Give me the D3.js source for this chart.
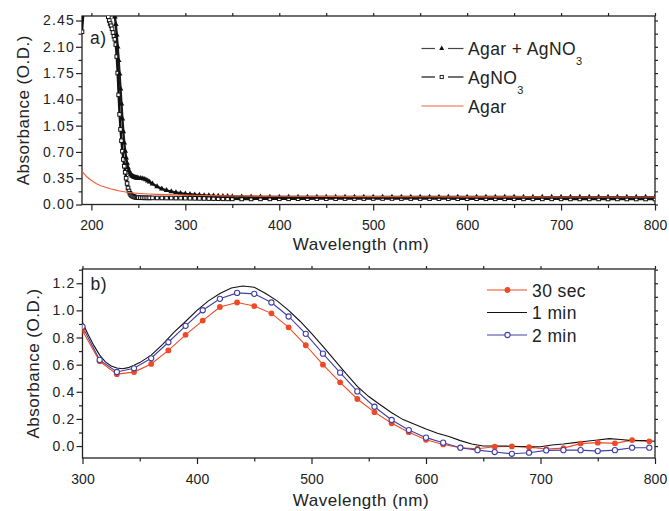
<!DOCTYPE html>
<html>
<head>
<meta charset="utf-8">
<title>Absorbance spectra</title>
<script src="https://d3js.org/d3.v7.min.js"></script>
<style>
  body { margin: 0; background: #fff; }
  svg { font-family: "Liberation Sans", Arial, sans-serif; }
  .axis path { display: none; }
  .axis line { stroke: #222; stroke-width: 1.2; }
  .axis text { font-size: 14px; fill: #222; }
  .frame { fill: none; stroke: #222; stroke-width: 1.3; }
  .title { font-size: 17px; fill: #222; letter-spacing: 0.5px; }
  .legend { font-size: 17.5px; fill: #222; letter-spacing: 0.4px; }
</style>
</head>
<body>
<script>

// panel a) wavelengths shared by the two black series
var topWl = [190, 195, 200, 205, 210, 215,
  216, 217, 218, 219, 220, 221, 222, 223, 224, 225, 226, 227, 228, 229, 230,
  231, 232, 233, 234, 235, 236, 237, 238, 239, 240, 241, 242, 243, 244, 245,
  246, 247, 248, 249, 250,
  252, 254, 256, 258, 260, 262,
  265, 270, 275, 280, 285, 290, 295, 300, 305, 310, 315, 320, 325, 330, 335,
  340, 345, 350,
  360, 370, 380, 390, 400, 410, 420, 430, 440, 450, 460, 470, 480, 490, 500,
  510, 520, 530, 540, 550, 560, 570, 580, 590, 600, 610, 620, 630, 640, 650,
  660, 670, 680, 690, 700, 710, 720, 730, 740, 750, 760, 770, 780, 790, 800];

// Agar + AgNO3 (filled triangles)
var agarAgno3Abs = [3.5, 3.5, 3.5, 3.5, 3.5, 3.4,
  3.3, 3.2, 3.1, 3.0, 2.9, 2.8, 2.72, 2.65, 2.58, 2.50, 2.40, 2.26, 2.10, 1.92, 1.74,
  1.54, 1.34, 1.14, 0.97, 0.82, 0.71, 0.62, 0.55, 0.49, 0.45, 0.42, 0.40, 0.385, 0.375, 0.368,
  0.362, 0.358, 0.355, 0.352, 0.35,
  0.35, 0.347, 0.34, 0.33, 0.315, 0.30,
  0.275, 0.238, 0.208, 0.188, 0.172, 0.16, 0.15, 0.142, 0.136, 0.13, 0.125, 0.121, 0.118, 0.115, 0.112,
  0.11, 0.108, 0.106,
  0.104, 0.103, 0.102, 0.101, 0.10, 0.10, 0.10, 0.10, 0.10, 0.10, 0.10, 0.10, 0.10, 0.10, 0.10,
  0.10, 0.10, 0.10, 0.10, 0.10, 0.099, 0.099, 0.099, 0.099, 0.099, 0.099, 0.099, 0.099, 0.099, 0.099,
  0.098, 0.098, 0.098, 0.098, 0.098, 0.098, 0.098, 0.098, 0.098, 0.098, 0.098, 0.098, 0.098, 0.098, 0.098];

// AgNO3 (open squares)
var agno3Abs = [2.30, 3.2, 3.4, 3.4, 3.3, 2.9,
  2.70, 2.60, 2.50, 2.45, 2.41, 2.38, 2.34, 2.29, 2.24, 2.20, 2.13, 1.97, 1.75, 1.46, 1.20,
  1.00, 0.85, 0.71, 0.60, 0.51, 0.43, 0.35, 0.28, 0.22, 0.18, 0.15, 0.13, 0.118, 0.11, 0.105,
  0.10, 0.097, 0.095, 0.093, 0.092,
  0.09, 0.09, 0.089, 0.089, 0.088, 0.088,
  0.088, 0.087, 0.087, 0.086, 0.086, 0.085, 0.085, 0.084, 0.083, 0.082, 0.081, 0.08, 0.079, 0.078, 0.077,
  0.076, 0.075, 0.075,
  0.074, 0.074, 0.075, 0.075, 0.076, 0.076, 0.077, 0.077, 0.078, 0.078, 0.078, 0.079, 0.079, 0.079, 0.08,
  0.08, 0.08, 0.079, 0.079, 0.079, 0.078, 0.078, 0.078, 0.077, 0.077, 0.077, 0.076, 0.076, 0.076, 0.076,
  0.075, 0.075, 0.075, 0.075, 0.075, 0.074, 0.074, 0.074, 0.074, 0.074, 0.074, 0.073, 0.073, 0.073, 0.073];

// Agar (red line)
var agarWl = [190, 192, 195, 198, 200, 205, 210, 215, 220, 225, 230, 235, 240, 245, 250,
  260, 270, 280, 290, 300, 320, 340, 360, 380, 400, 450, 500, 550, 600, 650, 700, 750, 800];
var agarAbs = [0.44, 0.41, 0.37, 0.34, 0.32, 0.28, 0.25, 0.23, 0.21, 0.195, 0.18, 0.17, 0.16, 0.153, 0.147,
  0.14, 0.135, 0.131, 0.128, 0.125, 0.12, 0.116, 0.113, 0.111, 0.11, 0.107, 0.105, 0.103, 0.102, 0.101, 0.10, 0.10, 0.10];

// panel b) marker wavelengths (every 15 nm)
var markWl = [300, 315, 330, 345, 360, 375, 390, 405, 420, 435, 450, 465, 480, 495, 510, 525, 540,
  555, 570, 585, 600, 615, 630, 645, 660, 675, 690, 705, 720, 735, 750, 765, 780, 795];
var sec30Abs = [0.85, 0.625, 0.53, 0.545, 0.605, 0.705, 0.82, 0.925, 1.025, 1.058, 1.032, 0.978, 0.875,
  0.743, 0.60, 0.47, 0.347, 0.25, 0.168, 0.102, 0.046, 0.012, -0.012, -0.02, -0.005, -0.003, -0.008,
  -0.022, -0.015, 0.018, 0.025, 0.02, 0.044, 0.035];
var min2Abs = [0.88, 0.635, 0.546, 0.573, 0.647, 0.765, 0.886, 1.001, 1.085, 1.129, 1.122, 1.058, 0.955,
  0.827, 0.681, 0.541, 0.403, 0.29, 0.192, 0.118, 0.062, 0.025, -0.012, -0.03, -0.044, -0.057, -0.049,
  -0.032, -0.03, -0.03, -0.037, -0.03, -0.012, -0.012];

// 1 min (plain black line)
var min1Wl = [300, 305, 310, 315, 320, 325, 330, 335, 340, 345, 350, 360, 370, 380, 390, 400, 410, 420,
  430, 440, 450, 460, 470, 480, 490, 500, 510, 520, 530, 540, 550, 560, 570, 580, 590, 600, 610, 620,
  630, 640, 650, 660, 670, 680, 690, 700, 710, 720, 730, 740, 750, 760, 770, 780, 790, 800];
var min1Abs = [0.91, 0.82, 0.74, 0.67, 0.62, 0.59, 0.575, 0.57, 0.578, 0.595, 0.615, 0.67, 0.75, 0.84,
  0.918, 1.0, 1.07, 1.125, 1.165, 1.18, 1.17, 1.125, 1.07, 1.0, 0.92, 0.83, 0.735, 0.635, 0.535, 0.44,
  0.365, 0.305, 0.245, 0.195, 0.16, 0.125, 0.095, 0.07, 0.04, 0.015, 0.0, 0.0, 0.0, -0.003, -0.005,
  -0.005, 0.008, 0.015, 0.025, 0.035, 0.045, 0.055, 0.048, 0.04, 0.04, 0.035];

// ticks
var topXTicks = [200, 300, 400, 500, 600, 700, 800];
var topXMinor = [250, 350, 450, 550, 650, 750];
var topYTicks = [0, 0.35, 0.70, 1.05, 1.40, 1.75, 2.10, 2.45];
var botXTicks = [300, 400, 500, 600, 700, 800];
var botXMinor = [350, 450, 550, 650, 750];
var botYTicks = [0, 0.2, 0.4, 0.6, 0.8, 1.0, 1.2];

var red = "#ef4a25",
    agarRed = "#f2603c",
    blue = "#4040a6";

var svg = d3.select("body").append("svg")
    .attr("width", 669)
    .attr("height", 511);

// scales
var xa = d3.scaleLinear().domain([190, 800]).range([82, 655]);
var ya = d3.scaleLinear().domain([0, 2.51]).range([204.5, 16]);
var xb = d3.scaleLinear().domain([300, 800]).range([82.5, 655]);
var yb = d3.scaleLinear().domain([-0.088, 1.305]).range([458, 269]);

function midpoints(t) {
  return t.slice(1).map(function(d, i) { return (d + t[i]) / 2; });
}

function drawAxes(x, y, xt, xm, yt, yfmt, ylabelX) {
  var x0 = x.range()[0], x1 = x.range()[1], y0 = y.range()[0], y1 = y.range()[1];
  var ym = midpoints(yt);
  if (yt[yt.length - 1] + (yt[1] - yt[0]) / 2 < y.domain()[1]) ym.push(yt[yt.length - 1] + (yt[1] - yt[0]) / 2);

  svg.append("g").attr("class", "axis").attr("transform", "translate(0," + y0 + ")")
    .call(d3.axisBottom(x).tickValues(xt).tickSize(6).tickPadding(10).tickFormat(d3.format("d")));
  svg.append("g").attr("class", "axis").attr("transform", "translate(0," + y0 + ")")
    .call(d3.axisBottom(x).tickValues(xm).tickSize(3.5).tickFormat(""));
  svg.append("g").attr("class", "axis").attr("transform", "translate(0," + y1 + ")")
    .call(d3.axisTop(x).tickValues(xt.concat(xm)).tickSize(3).tickFormat(""));

  var yl = svg.append("g").attr("class", "axis").attr("transform", "translate(" + x0 + ",0)")
    .call(d3.axisLeft(y).tickValues(yt).tickSize(6).tickPadding(1).tickFormat(d3.format(yfmt)));
  yl.selectAll("text").style("letter-spacing", "1.2px");
  svg.append("g").attr("class", "axis").attr("transform", "translate(" + x0 + ",0)")
    .call(d3.axisLeft(y).tickValues(ym).tickSize(3.5).tickFormat(""));
  svg.append("g").attr("class", "axis").attr("transform", "translate(" + x1 + ",0)")
    .call(d3.axisRight(y).tickValues(yt.concat(ym)).tickSize(3).tickFormat(""));

  svg.append("rect").attr("class", "frame")
    .attr("x", x0).attr("y", y1).attr("width", x1 - x0).attr("height", y0 - y1);

  svg.append("text").attr("class", "title")
    .attr("transform", "translate(" + ylabelX + "," + ((y0 + y1) / 2) + ") rotate(-90)")
    .attr("text-anchor", "middle")
    .text("Absorbance (O.D.)");
}

function clip(id, x, y) {
  svg.append("clipPath").attr("id", id).append("rect")
    .attr("x", x.range()[0]).attr("y", y.range()[1])
    .attr("width", x.range()[1] - x.range()[0])
    .attr("height", y.range()[0] - y.range()[1]);
}

function pairs(xs, ys) {
  return xs.map(function(d, i) { return [d, ys[i]]; });
}

// ---------- panel a ----------
drawAxes(xa, ya, topXTicks, topXMinor, topYTicks, ".2f", 28.5);
clip("clipA", xa, ya);

var lineA = d3.line().x(function(d) { return xa(d[0]); }).y(function(d) { return ya(d[1]); });
var ga = svg.append("g").attr("clip-path", "url(#clipA)");

var sq = pairs(topWl, agno3Abs);
var tri = pairs(topWl, agarAgno3Abs);

// dense markers in the original merge into a thick band, so the lines are drawn heavy
ga.append("path").datum(sq).attr("d", lineA)
  .attr("fill", "none").attr("stroke", "#111").attr("stroke-width", 2.4);
ga.selectAll("rect.sq").data(sq).enter().append("rect").attr("class", "sq")
  .attr("x", function(d) { return xa(d[0]) - 1.8; })
  .attr("y", function(d) { return ya(d[1]) - 1.8; })
  .attr("width", 3.6).attr("height", 3.6)
  .attr("fill", "#fff").attr("stroke", "#111").attr("stroke-width", 1);

ga.append("path").datum(tri).attr("d", lineA)
  .attr("fill", "none").attr("stroke", "#1a1a1a").attr("stroke-width", 2.4);
ga.selectAll("path.tri").data(tri).enter().append("path").attr("class", "tri")
  .attr("d", d3.symbol(d3.symbolTriangle, 14))
  .attr("transform", function(d) { return "translate(" + xa(d[0]) + "," + ya(d[1]) + ")"; })
  .attr("fill", "#111");

ga.append("path").datum(pairs(agarWl, agarAbs)).attr("d", lineA)
  .attr("fill", "none").attr("stroke", agarRed).attr("stroke-width", 1.2);

svg.append("text").attr("x", 90).attr("y", 44).attr("class", "legend").text("a)");

svg.append("text").attr("class", "title")
  .attr("x", 361).attr("y", 250).attr("text-anchor", "middle")
  .text("Wavelength (nm)");

// legend a
var legA = svg.append("g");
function legendText(g, y, main, sub) {
  var t = g.append("text").attr("class", "legend").attr("x", 468).attr("y", y + 6.5).text(main);
  if (sub) t.append("tspan").attr("dy", 10).style("font-size", "11px").text(sub);
}
[48.5, 77].forEach(function(yy, i) {
  legA.append("line").attr("x1", 421.5).attr("x2", 435).attr("y1", yy).attr("y2", yy)
    .attr("stroke", i ? "#111" : "#444").attr("stroke-width", 1.2);
  legA.append("line").attr("x1", 448).attr("x2", 463.5).attr("y1", yy).attr("y2", yy)
    .attr("stroke", i ? "#111" : "#444").attr("stroke-width", 1.2);
});
legA.append("path").attr("d", d3.symbol(d3.symbolTriangle, 11))
  .attr("transform", "translate(441.7,48.5)").attr("fill", "#111");
legA.append("rect").attr("x", 440.1).attr("y", 75.4).attr("width", 3.2).attr("height", 3.2)
  .attr("fill", "#fff").attr("stroke", "#111").attr("stroke-width", 0.9);
legA.append("line").attr("x1", 421.5).attr("x2", 463.5).attr("y1", 106).attr("y2", 106)
  .attr("stroke", agarRed).attr("stroke-width", 1.2);
legendText(legA, 48.5, "Agar + AgNO", "3");
legendText(legA, 77, "AgNO", "3");
legendText(legA, 106, "Agar");

// ---------- panel b ----------
drawAxes(xb, yb, botXTicks, botXMinor, botYTicks, ".1f", 38.5);
clip("clipB", xb, yb);

var lineB = d3.line().x(function(d) { return xb(d[0]); }).y(function(d) { return yb(d[1]); });
var gb = svg.append("g").attr("clip-path", "url(#clipB)");

var s30 = pairs(markWl, sec30Abs);
var m2 = pairs(markWl, min2Abs);

gb.append("path").datum(s30).attr("d", lineB)
  .attr("fill", "none").attr("stroke", red).attr("stroke-width", 1.1);
gb.append("path").datum(pairs(min1Wl, min1Abs)).attr("d", lineB)
  .attr("fill", "none").attr("stroke", "#111").attr("stroke-width", 1.1);
gb.append("path").datum(m2).attr("d", lineB)
  .attr("fill", "none").attr("stroke", blue).attr("stroke-width", 1.1);

gb.selectAll("circle.s30").data(s30).enter().append("circle").attr("class", "s30")
  .attr("cx", function(d) { return xb(d[0]); })
  .attr("cy", function(d) { return yb(d[1]); })
  .attr("r", 2.9).attr("fill", red);
gb.selectAll("circle.m2").data(m2).enter().append("circle").attr("class", "m2")
  .attr("cx", function(d) { return xb(d[0]); })
  .attr("cy", function(d) { return yb(d[1]); })
  .attr("r", 2.6).attr("fill", "#fff").attr("stroke", blue).attr("stroke-width", 1.1);

svg.append("text").attr("x", 90.5).attr("y", 290).attr("class", "legend").text("b)");

svg.append("text").attr("class", "title")
  .attr("x", 361).attr("y", 506).attr("text-anchor", "middle")
  .text("Wavelength (nm)");

// legend b
var legB = svg.append("g");
var rowsB = [
  {y: 290, label: "30 sec", color: red},
  {y: 312.5, label: "1 min", color: "#111"},
  {y: 335, label: "2 min", color: blue}
];
rowsB.forEach(function(r, i) {
  legB.append("line").attr("x1", 487).attr("x2", 527).attr("y1", r.y).attr("y2", r.y)
    .attr("stroke", r.color).attr("stroke-width", 1.1);
  if (i === 0) legB.append("circle").attr("cx", 507.5).attr("cy", r.y).attr("r", 2.9).attr("fill", red);
  if (i === 2) legB.append("circle").attr("cx", 507.5).attr("cy", r.y).attr("r", 2.6)
    .attr("fill", "#fff").attr("stroke", blue).attr("stroke-width", 1.1);
  legB.append("text").attr("class", "legend").attr("x", 532).attr("y", r.y + 6.5).text(r.label);
});

</script>
</body>
</html>
